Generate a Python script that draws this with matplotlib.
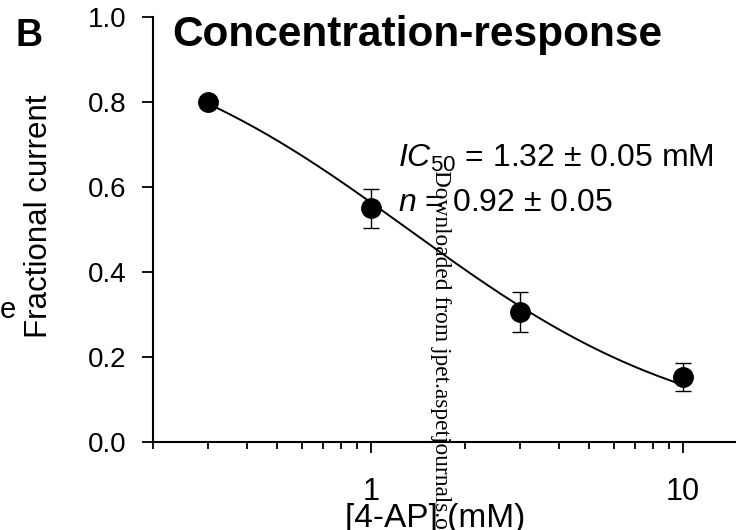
import numpy as np
import matplotlib
matplotlib.use("Agg")
import matplotlib.pyplot as plt
from matplotlib.ticker import LogLocator, NullFormatter, FixedFormatter, FixedLocator

plt.rcParams['font.family'] = ['Liberation Sans', 'DejaVu Sans']
plt.rcParams['mathtext.fontset'] = 'custom'
plt.rcParams['mathtext.rm'] = 'Liberation Sans'
plt.rcParams['mathtext.it'] = 'Liberation Sans:italic'

# data
conc = [0.3, 1.0, 3.0, 10.0]          # [4-AP] mM
frac = [0.80, 0.55, 0.306, 0.153]     # fractional current
err = [0.0, 0.046, 0.046, 0.034]
ic50 = 1.32
hill_n = 0.92

W, H = 736, 530
fig = plt.figure(figsize=(W / 100, H / 100), dpi=100)

def fx(x):
    return x / W

def fy(y):
    return 1 - y / H

ax = fig.add_axes([fx(153), fy(442), 1 - fx(153), (442 - 17) / H])

xs = np.logspace(np.log10(conc[0]), np.log10(conc[-1]), 200)
ax.plot(xs, 1 / (1 + (xs / ic50) ** hill_n), color='black', lw=1.4, zorder=2)
ax.errorbar(conc, frac, yerr=err, fmt='none', ecolor='black', elinewidth=1,
            capsize=6, capthick=1, zorder=3)
ax.plot(conc, frac, 'o', color='black', ms=14, zorder=4)

ax.set_xscale('log')
ax.set_xlim(0.2, 14.8)
ax.set_ylim(0, 1.0)
ax.xaxis.set_major_locator(FixedLocator([1, 10]))
ax.xaxis.set_major_formatter(FixedFormatter(['1', '10']))
ax.xaxis.set_minor_locator(LogLocator(base=10, subs=np.arange(2, 10)))
ax.xaxis.set_minor_formatter(NullFormatter())
ax.set_yticks([0, 0.2, 0.4, 0.6, 0.8, 1.0])
ax.set_yticklabels(['0.0', '0.2', '0.4', '0.6', '0.8', '1.0'])

for s in ['top', 'right']:
    ax.spines[s].set_visible(False)
for s in ['left', 'bottom']:
    ax.spines[s].set_linewidth(1.5)
ax.spines['bottom'].set_clip_on(False)

ax.tick_params(axis='y', which='major', direction='out', length=8, width=1.3,
               labelsize=20, pad=11)
ax.tick_params(axis='x', which='major', direction='out', length=8, width=1.3,
               labelsize=22, pad=17)
ax.tick_params(axis='x', which='minor', direction='out', length=5, width=1.3)
ax.patch.set_alpha(0)

# labels and text
fig.text(fx(15), fy(46), 'B', fontsize=27, fontweight='bold', va='baseline')
fig.text(fx(172), fy(46), 'Concentration-response', fontsize=30.5,
         fontweight='bold', va='baseline')
fig.text(fx(39), fy(338), 'Fractional current', rotation=90, fontsize=22.5,
         ha='center', va='bottom')
fig.text(fx(0), fy(318), 'e', fontsize=21, va='baseline')
fig.text(fx(435), fy(527), '[4-AP] (mM)', fontsize=24, ha='center', va='baseline')

fig.text(fx(398), fy(167), r'$\it{IC}_{50}$ = 1.32 ± 0.05 mM',
         fontsize=23, va='baseline')
fig.text(fx(398), fy(211), r'$\it{n}$ = 0.92 ± 0.05',
         fontsize=23, va='baseline')

# vertical watermark
fig.text(fx(440), fy(170), 'Downloaded from jpet.aspetjournals.org',
         rotation=-90, fontsize=16.8, family='Liberation Serif',
         ha='center', va='top')

fig.savefig('out.png', dpi=100)
